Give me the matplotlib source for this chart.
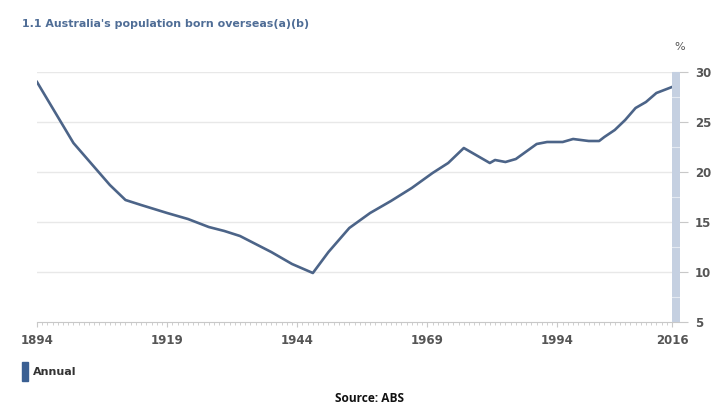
import matplotlib
matplotlib.use("Agg")
import matplotlib.pyplot as plt
from matplotlib.ticker import MultipleLocator

years = [1894, 1901, 1908, 1911, 1914, 1919, 1923, 1927, 1930, 1933, 1939, 1943,
         1947, 1950, 1954, 1958, 1962, 1966, 1970, 1973, 1976, 1981, 1982, 1984,
         1986, 1990, 1992, 1995, 1997, 2000, 2002, 2003, 2005, 2007, 2009, 2011,
         2013, 2016]
born_overseas = [29.0, 22.9, 18.7, 17.2, 16.7, 15.9, 15.3, 14.5, 14.1, 13.6, 12.0, 10.8,
                 9.9, 12.0, 14.4, 15.9, 17.1, 18.4, 19.9, 20.9, 22.4, 20.9, 21.2, 21.0,
                 21.3, 22.8, 23.0, 23.0, 23.3, 23.1, 23.1, 23.5, 24.2, 25.2, 26.4, 27.0,
                 27.9, 28.5]
xtick_years = [1894, 1919, 1944, 1969, 1994, 2016]
ytick_vals = [5, 10, 15, 20, 25, 30]

line_col = "#4c6488"
grey = "#555555"

fig = plt.figure(figsize=(7.2, 4.13), dpi=100)
ax = fig.add_axes([37/720, 1 - 322/413, 635/720, 250/413])

ax.plot(years, born_overseas, color=line_col, lw=1.9, solid_joinstyle="round")
ax.set_xlim(1894, 2016)
ax.set_ylim(5, 30)

for v in ytick_vals[1:]:
    ax.axhline(v, color="#e8e8e8", lw=1, zorder=0)

for s in ["top", "left", "right"]:
    ax.spines[s].set_visible(False)
ax.spines["bottom"].set_color("#c8c8c8")
ax.spines["bottom"].set_linewidth(0.8)

ax.set_xticks(xtick_years)
ax.set_xticklabels([str(y) for y in xtick_years])
ax.xaxis.set_minor_locator(MultipleLocator(1))
ax.tick_params(axis="x", which="major", length=3.5, color="#c8c8c8", pad=5,
               labelsize=8.5, labelcolor=grey)
ax.tick_params(axis="x", which="minor", length=2.5, width=0.6, color="#c8c8c8")

ax.yaxis.tick_right()
ax.set_yticks(ytick_vals)
ax.tick_params(axis="y", length=11.5, width=0.8, color="#c8c8c8", pad=5,
               labelsize=8.5, labelcolor=grey)
for lab in ax.get_yticklabels() + ax.get_xticklabels():
    lab.set_fontweight("bold")

# scroll band on the right
band = fig.add_axes([672/720, 1 - 322/413, 8/720, 250/413])
band.set_facecolor("#c5d0e1")
band.set_xlim(0, 1)
band.set_ylim(5, 30)
for v in [7.5, 12.5, 17.5, 22.5, 27.5]:
    band.axhline(v, color="#e4e9f1", lw=0.8)
band.set_xticks([])
band.set_yticks([])
for s in band.spines.values():
    s.set_visible(False)

fig.text(680/720, 1 - 47/413, "%", fontsize=8, color=grey, ha="center", va="center")
fig.text(22/720, 1 - 24/413, "1.1 Australia's population born overseas(a)(b)",
         fontsize=7.9, fontweight="bold", color="#4f6d96", ha="left", va="center")

fig.patches.append(plt.Rectangle((22/720, 1 - 381/413), 6/720, 19/413,
                                 transform=fig.transFigure, color="#3a5f92"))
fig.text(33/720, 1 - 372/413, "Annual", fontsize=8, fontweight="bold",
         color="#333333", ha="left", va="center")
fig.text(370/720, 1 - 398/413, "Source: ABS", fontsize=8.6, fontweight="bold",
         family="Open Sans", color="#111111", ha="center", va="center")

fig.savefig("out.png", dpi=100, facecolor="white")
